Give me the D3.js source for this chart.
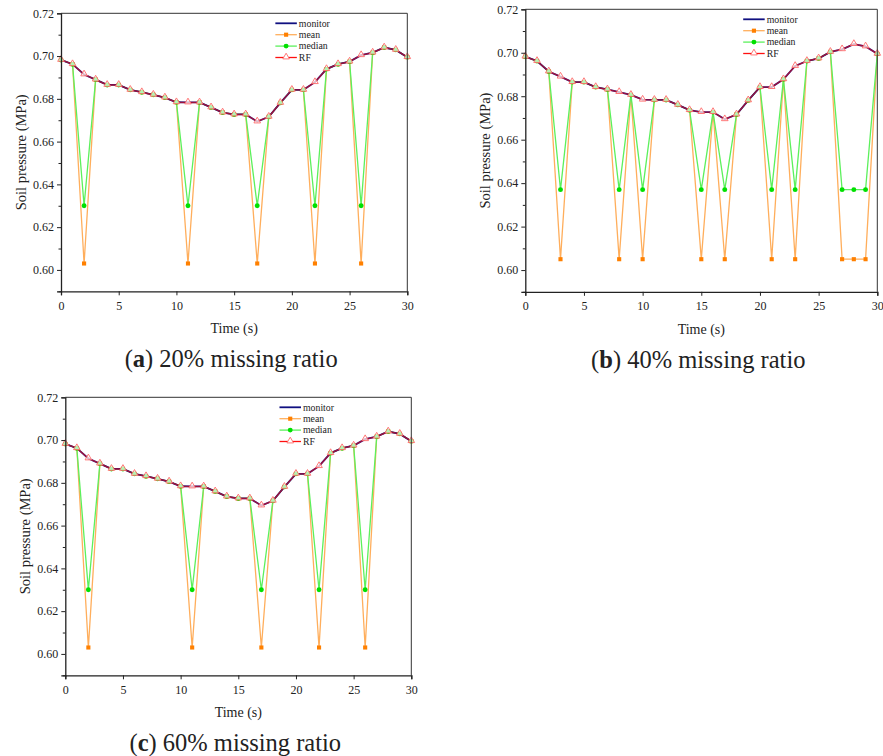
<!DOCTYPE html>
<html>
<head>
<meta charset="utf-8">
<script src="https://cdn.jsdelivr.net/npm/d3@7"></script>
<style>
  html, body { margin: 0; padding: 0; background: #ffffff; }
  svg { display: block; }
  text { font-family: "Liberation Serif", "Times New Roman", serif; fill: #222; }
</style>
</head>
<body>
<svg id="chart" width="883" height="756"></svg>
<script>
// Time axis (s)
const timeSteps = [0,1,2,3,4,5,6,7,8,9,10,11,12,13,14,15,16,17,18,19,20,21,22,23,24,25,26,27,28,29,30];

// Measured soil pressure (MPa)
const monitorValues = [0.6982, 0.6962, 0.6914, 0.6890, 0.6865, 0.6865, 0.6842, 0.6831, 0.6819, 0.6806,
                       0.6784, 0.6783, 0.6783, 0.6760, 0.6736, 0.6727, 0.6727, 0.6694, 0.6716, 0.6781,
                       0.6842, 0.6842, 0.6878, 0.6939, 0.6962, 0.6974, 0.7004, 0.7016, 0.7040, 0.7029, 0.6995];

// Random-forest reconstruction (MPa)
const rfValues = [0.6982, 0.6962, 0.6914, 0.6890, 0.6865, 0.6865, 0.6842, 0.6831, 0.6819, 0.6806,
                  0.6784, 0.6783, 0.6783, 0.6760, 0.6736, 0.6727, 0.6727, 0.6694, 0.6716, 0.6781,
                  0.6842, 0.6842, 0.6878, 0.6939, 0.6962, 0.6974, 0.7004, 0.7016, 0.7040, 0.7029, 0.6995];

// Missing positions for each missing ratio
const missing20 = [2, 11, 17, 22, 26];
const missing40 = [3, 8, 10, 15, 17, 21, 23, 27, 28, 29];
const missing60 = [2, 11, 17, 22, 26];

// Fill values used by the mean / median imputations (MPa)
const meanFill = { a: 0.603, b: 0.605, c: 0.603 };
const medianFill = { a: 0.630, b: 0.637, c: 0.630 };

// Axis ticks
const yTicks = [0.60, 0.62, 0.64, 0.66, 0.68, 0.70, 0.72];
const yMinorTicks = [0.59, 0.61, 0.63, 0.65, 0.67, 0.69, 0.71];
const xTicks = [0, 5, 10, 15, 20, 25, 30];

const legendNames = ["monitor", "mean", "median", "RF"];

const colors = {
  monitor: "#101080",
  meanLine: "#ffae5c",
  meanMark: "#ff8000",
  medianLine: "#5cf05c",
  medianMark: "#00e000",
  rfLine: "#ff1010",
  rfMark: "#ff6a6a"
};

const serif = "'Liberation Serif', 'Times New Roman', serif";
const svg = d3.select("#chart");

function imputed(missing, fill) {
  return monitorValues.map((v, i) => missing.includes(i) ? fill : v);
}

function drawPanel(cfg) {
  const { left, right, top, bottom, key, missing, label, ratio } = cfg;
  const x = d3.scaleLinear().domain([0, 30]).range([left, right]);
  const y = d3.scaleLinear().domain([0.59, 0.72]).range([bottom, top]);
  const g = svg.append("g");

  const meanSeries = imputed(missing, meanFill[key]);
  const medianSeries = imputed(missing, medianFill[key]);

  const line = d3.line().x((d, i) => x(timeSteps[i])).y(d => y(d));

  // lines
  g.append("path").attr("d", line(meanSeries)).attr("fill", "none")
    .attr("stroke", colors.meanLine).attr("stroke-width", 1.3);
  g.append("path").attr("d", line(medianSeries)).attr("fill", "none")
    .attr("stroke", colors.medianLine).attr("stroke-width", 1.3);
  g.append("path").attr("d", line(monitorValues)).attr("fill", "none")
    .attr("stroke", colors.monitor).attr("stroke-width", 1.8);
  g.append("path").attr("d", line(rfValues)).attr("fill", "none")
    .attr("stroke", colors.rfLine).attr("stroke-width", 1.4).attr("stroke-opacity", 0.6);

  // markers
  const sq = d3.symbol().type(d3.symbolSquare).size(17);
  const dia = d3.symbol().type(d3.symbolCircle).size(19);
  const tri = d3.symbol().type(d3.symbolTriangle).size(19);

  g.selectAll(".mean-mk").data(meanSeries).join("path")
    .attr("d", sq).attr("transform", (d, i) => `translate(${x(timeSteps[i])},${y(d)})`)
    .attr("fill", colors.meanMark);
  g.selectAll(".med-mk").data(medianSeries).join("path")
    .attr("d", dia).attr("transform", (d, i) => `translate(${x(timeSteps[i])},${y(d)})`)
    .attr("fill", colors.medianMark);
  g.selectAll(".rf-mk").data(rfValues).join("path")
    .attr("d", tri).attr("transform", (d, i) => `translate(${x(timeSteps[i])},${y(d) - 0.5})`)
    .attr("fill", "#ffffff").attr("fill-opacity", 0.7)
    .attr("stroke", colors.rfMark).attr("stroke-width", 0.9);

  // frame
  g.append("line").attr("x1", left).attr("x2", right).attr("y1", top).attr("y2", top)
    .attr("stroke", "#333").attr("stroke-width", 1);
  g.append("line").attr("x1", right).attr("x2", right).attr("y1", top).attr("y2", bottom)
    .attr("stroke", "#333").attr("stroke-width", 1);

  // y axis
  const yAxis = g.append("g").attr("transform", `translate(${left},0)`)
    .call(d3.axisLeft(y).tickValues(yTicks).tickFormat(d3.format(".2f")).tickSize(4).tickPadding(3))
    .attr("font-family", serif).attr("font-size", 12);
  yAxis.select(".domain").attr("stroke", "#222").attr("stroke-width", 1.3);
  yAxis.selectAll(".tick line").attr("stroke", "#222");
  yAxis.selectAll(".tick text").style("font-family", serif).style("font-size", "12px").attr("fill", "#333");
  const yMinor = g.append("g").attr("transform", `translate(${left},0)`)
    .call(d3.axisLeft(y).tickValues(yMinorTicks).tickFormat("").tickSize(2.5));
  yMinor.select(".domain").remove();
  yMinor.selectAll(".tick line").attr("stroke", "#222");

  // x axis
  const xAxis = g.append("g").attr("transform", `translate(0,${bottom})`)
    .call(d3.axisBottom(x).tickValues(xTicks).tickFormat(d3.format("d")).tickSize(4).tickPadding(6))
    .attr("font-family", serif).attr("font-size", 12);
  xAxis.select(".domain").attr("stroke", "#222").attr("stroke-width", 1.3);
  xAxis.selectAll(".tick line").attr("stroke", "#222");
  xAxis.selectAll(".tick text").style("font-family", serif).style("font-size", "12px").attr("fill", "#333");

  // axis titles
  g.append("text")
    .attr("transform", `translate(${left - 35},${(top + bottom) / 2}) rotate(-90)`)
    .attr("text-anchor", "middle").style("font-size", "14.5px")
    .text("Soil pressure (MPa)");
  g.append("text")
    .attr("x", (left + right) / 2).attr("y", bottom + 42)
    .attr("text-anchor", "middle").style("font-size", "14px")
    .text("Time (s)");

  // caption
  const cap = g.append("text")
    .attr("x", (left + right) / 2 - 3).attr("y", bottom + 76)
    .attr("text-anchor", "middle").style("font-size", "24.5px").attr("fill", "#111");
  cap.append("tspan").text("(");
  cap.append("tspan").style("font-weight", "bold").text(label);
  cap.append("tspan").text(`) ${ratio} missing ratio`);

  // legend
  const lx = left + 0.619 * (right - left);
  const ly = top + 10;
  const rowH = 11.4;
  const lg = g.append("g");
  legendNames.forEach((name, i) => {
    const yy = ly + i * rowH;
    const row = lg.append("g");
    const stroke = name === "monitor" ? colors.monitor : name === "mean" ? colors.meanLine
      : name === "median" ? colors.medianLine : colors.rfLine;
    row.append("line").attr("x1", lx).attr("x2", lx + 21.5).attr("y1", yy).attr("y2", yy)
      .attr("stroke", stroke).attr("stroke-width", name === "monitor" ? 1.8 : 1.3);
    const cx = lx + 10.75;
    if (name === "mean") {
      row.append("path").attr("d", sq).attr("transform", `translate(${cx},${yy})`).attr("fill", colors.meanMark);
    } else if (name === "median") {
      row.append("path").attr("d", dia).attr("transform", `translate(${cx},${yy})`).attr("fill", colors.medianMark);
    } else if (name === "RF") {
      row.append("path").attr("d", tri).attr("transform", `translate(${cx},${yy - 0.5})`)
        .attr("fill", "#fff").attr("stroke", colors.rfMark).attr("stroke-width", 0.9);
    }
    row.append("text").attr("x", lx + 23.5).attr("y", yy + 3.3)
      .style("font-size", "9.8px").attr("fill", "#333").text(name);
  });
}

drawPanel({ key: "a", left: 61, right: 407.3, top: 13.3, bottom: 291.3, missing: missing20, label: "a", ratio: "20%" });
drawPanel({ key: "b", left: 525.3, right: 877.3, top: 9.3, bottom: 291.8, missing: missing40, label: "b", ratio: "40%" });
drawPanel({ key: "c", left: 65.3, right: 411.3, top: 397.3, bottom: 675.3, missing: missing60, label: "c", ratio: "60%" });
</script>
</body>
</html>
